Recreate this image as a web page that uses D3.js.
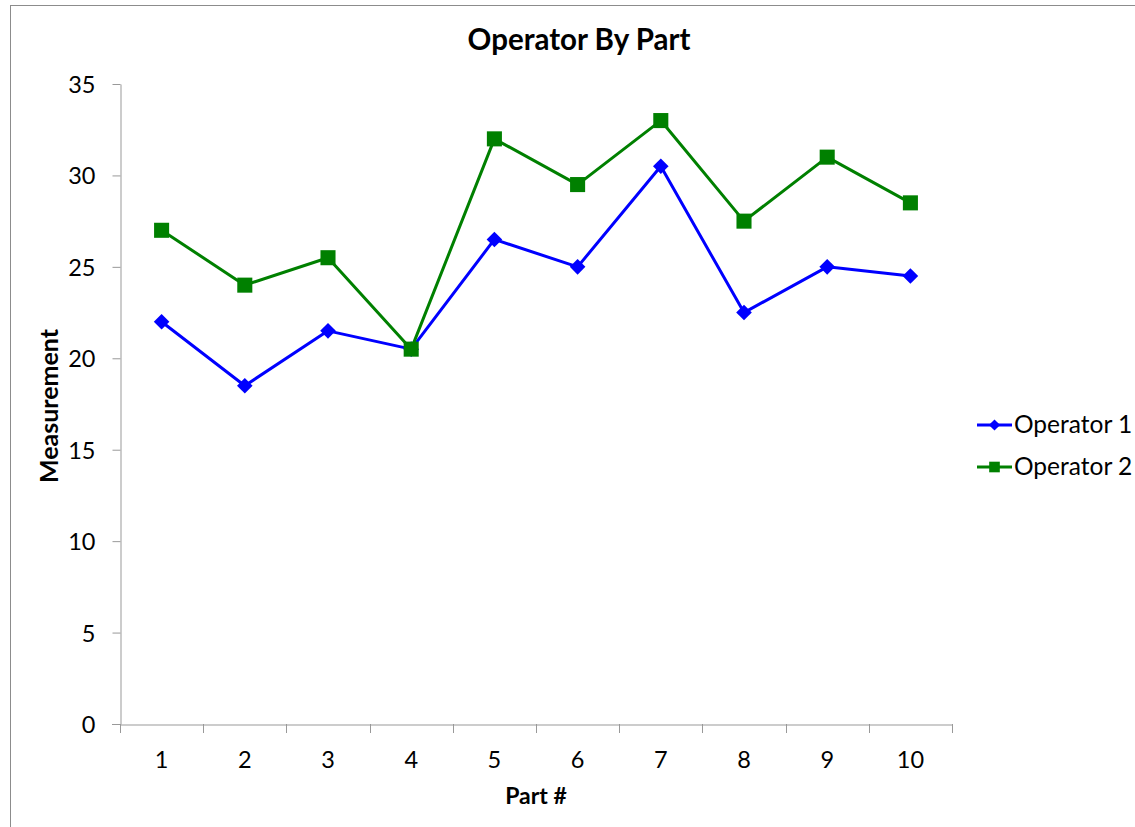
<!DOCTYPE html>
<html>
<head>
<meta charset="utf-8">
<script src="https://cdn.jsdelivr.net/npm/d3@7"></script>
<style>
  html, body { margin: 0; padding: 0; background: #fff; }
  svg { display: block; font-family: Lato, "Open Sans", sans-serif; }
</style>
</head>
<body>
<svg id="chart" width="1135" height="827"></svg>
<script>
// Parts measured and each operator's readings
const parts = ["1", "2", "3", "4", "5", "6", "7", "8", "9", "10"];
const operator1 = [22, 18.5, 21.5, 20.5, 26.5, 25, 30.5, 22.5, 25, 24.5];
const operator2 = [27, 24, 25.5, 20.5, 32, 29.5, 33, 27.5, 31, 28.5];
const yTicks = [0, 5, 10, 15, 20, 25, 30, 35];
const seriesNames = ["Operator 1", "Operator 2"];
const seriesColors = ["#0000ff", "#008000"];

const FONT = "Lato, 'Open Sans', sans-serif";
const svg = d3.select("#chart");

// outer chart frame
svg.append("rect")
  .attr("x", 10.5).attr("y", 5.5)
  .attr("width", 1300).attr("height", 1000)
  .attr("fill", "none").attr("stroke", "#8c8c8c").attr("stroke-width", 1);

const plot = { left: 120, right: 952, top: 84, bottom: 724 };

const x = d3.scaleBand().domain(parts).range([plot.left, plot.right]);
const y = d3.scaleLinear().domain([0, 35]).range([plot.bottom, plot.top]);

// y axis
const yAxis = svg.append("g")
  .attr("transform", `translate(${plot.left + 0.5},0)`)
  .call(d3.axisLeft(y).tickValues(yTicks).tickSize(8).tickPadding(17).tickSizeOuter(0));
yAxis.select(".domain").attr("stroke", "#999");
yAxis.selectAll(".tick line").attr("stroke", "#999");
yAxis.selectAll(".tick text").attr("font-size", 23.5).attr("fill", "#000")
  .attr("font-family", FONT).attr("dy", "0.36em");

// x axis: ticks sit between categories
const xAxis = svg.append("g")
  .attr("transform", `translate(0,${plot.bottom + 0.5})`)
  .call(d3.axisBottom(x).tickSize(0).tickSizeOuter(0));
xAxis.select(".domain").attr("stroke", "#999");
xAxis.selectAll(".tick text").attr("font-size", 23.5).attr("fill", "#000")
  .attr("font-family", FONT).attr("y", 43).attr("dy", 0);
const boundaries = parts.map(p => x(p)).concat([x(parts[parts.length - 1]) + x.bandwidth()]);
svg.append("g").selectAll("line").data(boundaries).join("line")
  .attr("x1", d => Math.round(d) + 0.5).attr("x2", d => Math.round(d) + 0.5)
  .attr("y1", plot.bottom).attr("y2", plot.bottom + 9)
  .attr("stroke", "#999");
svg.append("line")
  .attr("x1", plot.left - 8).attr("x2", plot.left)
  .attr("y1", plot.bottom + 0.5).attr("y2", plot.bottom + 0.5)
  .attr("stroke", "#999");

const cx = p => x(p) + x.bandwidth() / 2;
const line = d3.line().x((d, i) => cx(parts[i])).y(d => y(d));

const series = [operator1, operator2];
const symbols = [
  d3.symbol().type(d3.symbolDiamond2).size(155),
  d3.symbol().type(d3.symbolSquare2).size(289)
];
const legendSymbols = [
  d3.symbol().type(d3.symbolDiamond2).size(80),
  d3.symbol().type(d3.symbolSquare2).size(144)
];

series.forEach((vals, s) => {
  svg.append("path").datum(vals)
    .attr("d", line)
    .attr("fill", "none")
    .attr("stroke", seriesColors[s])
    .attr("stroke-width", 3)
    .attr("stroke-linejoin", "round");
});
series.forEach((vals, s) => {
  svg.append("g").selectAll("path").data(vals).join("path")
    .attr("transform", (d, i) => `translate(${cx(parts[i])},${y(d)})`)
    .attr("d", symbols[s])
    .attr("fill", seriesColors[s]);
});

// title and axis titles
svg.append("text")
  .attr("x", 579).attr("y", 50)
  .attr("text-anchor", "middle")
  .attr("font-size", 29.5).attr("font-weight", "bold")
  .text("Operator By Part");

svg.append("text")
  .attr("transform", "translate(58,406) rotate(-90)")
  .attr("text-anchor", "middle")
  .attr("font-size", 25).attr("font-weight", "bold")
  .text("Measurement");

svg.append("text")
  .attr("x", 536).attr("y", 804)
  .attr("text-anchor", "middle")
  .attr("font-size", 23).attr("font-weight", "bold")
  .text("Part #");

// legend
const legend = svg.append("g");
seriesNames.forEach((name, s) => {
  const ly = 425 + s * 42;
  legend.append("line")
    .attr("x1", 977).attr("x2", 1012).attr("y1", ly).attr("y2", ly)
    .attr("stroke", seriesColors[s]).attr("stroke-width", 3);
  legend.append("path")
    .attr("transform", `translate(994.5,${ly})`)
    .attr("d", legendSymbols[s])
    .attr("fill", seriesColors[s]);
  legend.append("text")
    .attr("x", 1014).attr("y", ly + 8)
    .attr("font-size", 24.5)
    .text(name);
});
</script>
</body>
</html>
